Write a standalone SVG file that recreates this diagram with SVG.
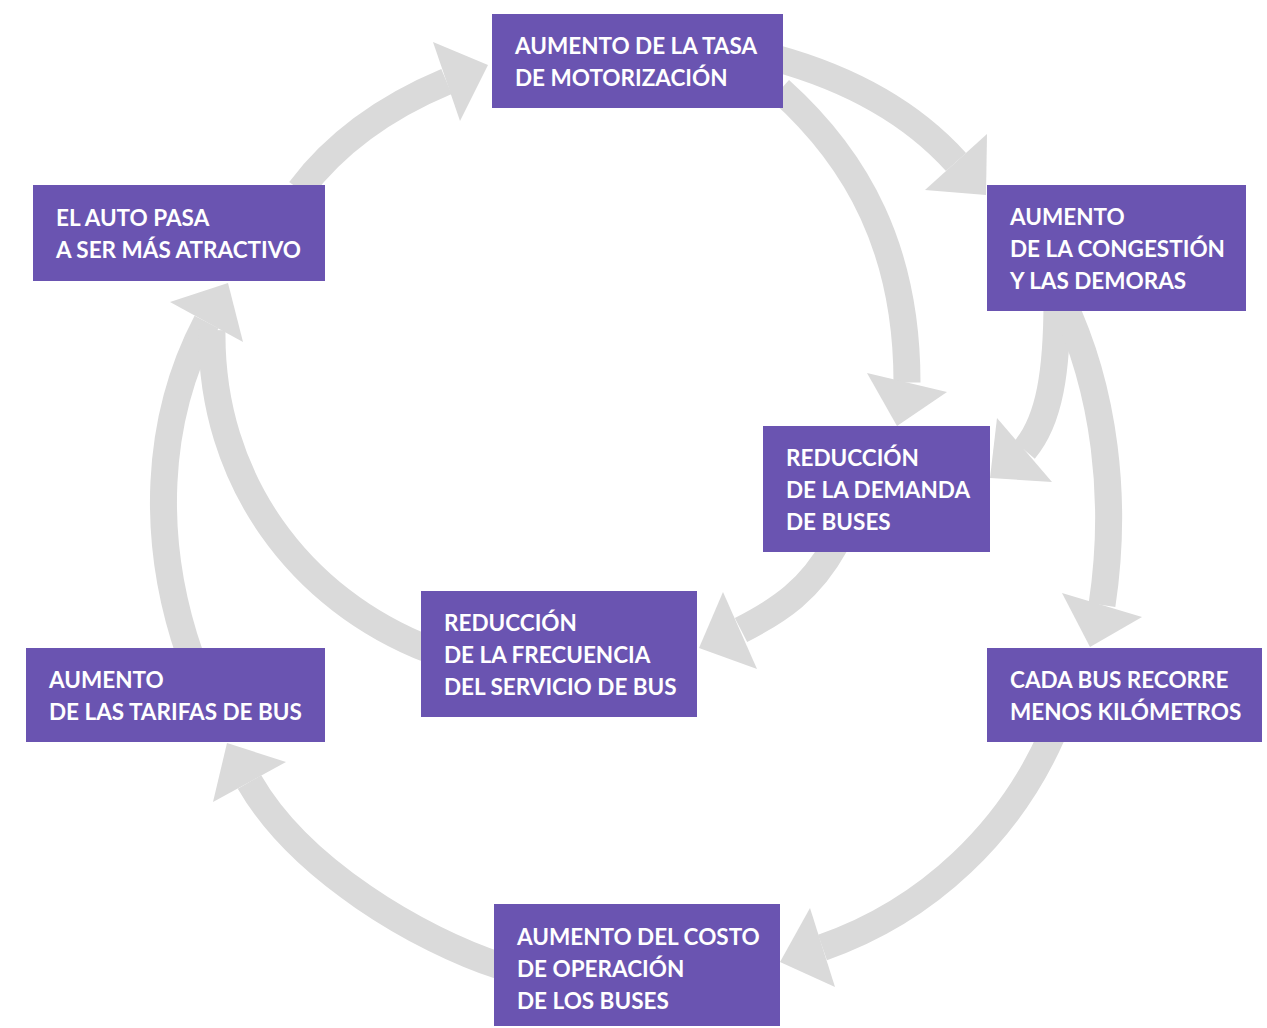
<svg xmlns="http://www.w3.org/2000/svg" width="1267" height="1028" viewBox="0 0 1267 1028">
<style>
.box{fill:#6a54b1}
.t{font-family:Lato,"Open Sans","Liberation Sans",sans-serif;font-weight:700;font-size:22.5px;fill:#ffffff}
.sh{fill:none;stroke:#dadada;stroke-width:27}
.hd{fill:#dadada}
</style>
<rect width="1267" height="1028" fill="#ffffff"/>
<g id="connectors">
  <path class="sh" d="M300,190 Q352,121 446.5,81.5"/>
  <polygon class="hd" points="433,42 488,65 460,121"/>
  <path class="sh" d="M775,58 Q891,90 956,162"/>
  <polygon class="hd" points="987,134 986,195 925,190"/>
  <path class="sh" d="M780,90 C858,160 907,250 907,382.5"/>
  <polygon class="hd" points="867,373 897,426 947,392"/>
  <path class="sh" d="M1057,300 C1057,370 1050,420 1024.5,450"/>
  <polygon class="hd" points="997,418 990,478 1052,482"/>
  <path class="sh" d="M1062,300 C1105,390 1118,500 1102,605"/>
  <polygon class="hd" points="1062,593 1090,647 1142,617"/>
  <path class="sh" d="M1052,735 C1010,830 930,910 822.5,947.5"/>
  <polygon class="hd" points="810,908 780,962 835,987"/>
  <path class="sh" d="M500,966 C420,940 300,870 249.5,782"/>
  <polygon class="hd" points="213,802 227,743 286,762"/>
  <path class="sh" d="M190,655 C150,540 155,420 206.5,322"/>
  <polygon class="hd" points="170,302 228,283 243,342"/>
  <path class="sh" d="M430,650 C300,600 210,480 212,330"/>
  <path class="sh" d="M835,545 C810,590 780,610 741,630"/>
  <polygon class="hd" points="723,592 699,648 757,669"/>
</g>
<g id="n1"><rect class="box" x="492" y="14" width="291" height="94"/>
  <text class="t" x="515" y="53.5">AUMENTO DE LA TASA</text>
  <text class="t" x="515" y="85.5">DE MOTORIZACIÓN</text></g>
<g id="n2"><rect class="box" x="987" y="185" width="259" height="126"/>
  <text class="t" x="1010" y="225">AUMENTO</text>
  <text class="t" x="1010" y="257">DE LA CONGESTIÓN</text>
  <text class="t" x="1010" y="289">Y LAS DEMORAS</text></g>
<g id="n3"><rect class="box" x="33" y="185" width="292" height="96"/>
  <text class="t" x="56" y="226">EL AUTO PASA</text>
  <text class="t" x="56" y="258">A SER MÁS ATRACTIVO</text></g>
<g id="n4"><rect class="box" x="763" y="426" width="227" height="126"/>
  <text class="t" x="786" y="466">REDUCCIÓN</text>
  <text class="t" x="786" y="498">DE LA DEMANDA</text>
  <text class="t" x="786" y="530">DE BUSES</text></g>
<g id="n5"><rect class="box" x="421" y="591" width="276" height="126"/>
  <text class="t" x="444" y="631">REDUCCIÓN</text>
  <text class="t" x="444" y="663">DE LA FRECUENCIA</text>
  <text class="t" x="444" y="695">DEL SERVICIO DE BUS</text></g>
<g id="n6"><rect class="box" x="26" y="648" width="299" height="94"/>
  <text class="t" x="49" y="688">AUMENTO</text>
  <text class="t" x="49" y="720">DE LAS TARIFAS DE BUS</text></g>
<g id="n7"><rect class="box" x="987" y="648" width="275" height="94"/>
  <text class="t" x="1010" y="688">CADA BUS RECORRE</text>
  <text class="t" x="1010" y="720">MENOS KILÓMETROS</text></g>
<g id="n8"><rect class="box" x="494" y="904" width="286" height="122"/>
  <text class="t" x="517" y="945">AUMENTO DEL COSTO</text>
  <text class="t" x="517" y="977">DE OPERACIÓN</text>
  <text class="t" x="517" y="1009">DE LOS BUSES</text></g>
</svg>
